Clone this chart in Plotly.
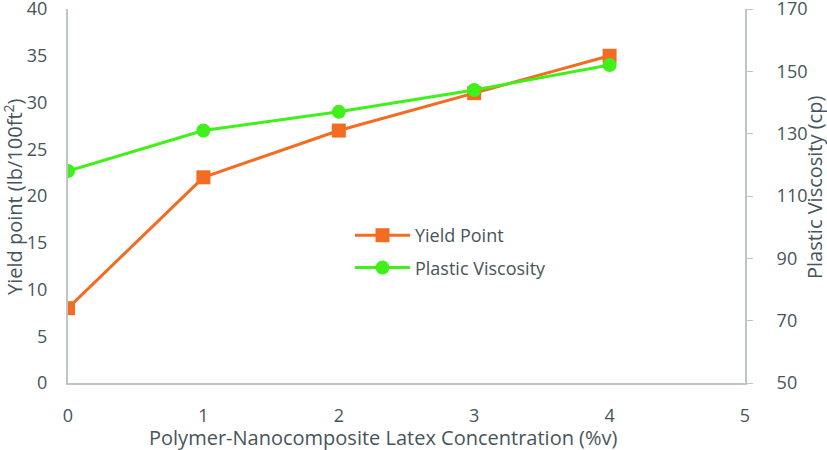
import plotly.graph_objects as go

concentration = [0, 1, 2, 3, 4]
yield_point = [8, 22, 27, 31, 35]
plastic_viscosity = [118, 131, 137, 144, 152]

x_ticks = [0, 1, 2, 3, 4, 5]
left_ticks = [0, 5, 10, 15, 20, 25, 30, 35, 40]
right_ticks = [50, 70, 90, 110, 130, 150, 170]

x_title = "Polymer-Nanocomposite Latex Concentration (%v)"
left_title = "Yield point (lb/100ft<sup>2</sup>)"
right_title = "Plastic Viscosity (cp)"

orange = "#F26C21"
green = "#3FF01A"
text_color = "#46555A"
axis_color = "#BFC4C4"
font_family = "Open Sans, Liberation Sans, sans-serif"

# plot area in pixels (for placing axis titles)
L, R, T, B = 68, 82, 9, 67
W, H = 827, 450
pw, ph = W - L - R, H - T - B


def px(xp):
    return (xp - L) / pw


def py(yp):
    return (H - B - yp) / ph


fig = go.Figure()
fig.add_trace(go.Scatter(
    x=concentration, y=yield_point, name="Yield Point", mode="lines+markers",
    line=dict(color=orange, width=3), legendgroup="a",
    marker=dict(symbol="square", size=14, color=orange),
    yaxis="y",
))
fig.add_trace(go.Scatter(
    x=concentration, y=plastic_viscosity, name="Plastic Viscosity", mode="lines+markers",
    line=dict(color=green, width=3), legendgroup="b",
    marker=dict(symbol="circle", size=14, color=green),
    yaxis="y2",
))

fig.update_layout(
    width=W, height=H,
    margin=dict(l=L, r=R, t=T, b=B, autoexpand=False),
    paper_bgcolor="white", plot_bgcolor="white",
    font=dict(family=font_family, color=text_color, size=18),
    showlegend=True,
    legend=dict(x=px(350), y=py(217), xanchor="left", yanchor="top",
                bgcolor="rgba(0,0,0,0)", font=dict(size=18, color=text_color),
                tracegroupgap=6, itemwidth=55),
    xaxis=dict(range=[0, 5], tickvals=x_ticks, showgrid=False, zeroline=False,
               showline=True, linecolor=axis_color, linewidth=2,
               ticks="", ticklabelstandoff=15, automargin=False,
               ticklabeloverflow="allow"),
    yaxis=dict(range=[0, 40], tickvals=left_ticks, showgrid=False, zeroline=False,
               showline=True, linecolor=axis_color, linewidth=2,
               ticks="", ticklabelstandoff=15, automargin=False,
               ticklabeloverflow="allow"),
    yaxis2=dict(range=[50, 170], tickvals=right_ticks, overlaying="y", side="right",
                showgrid=False, zeroline=False, showline=True, linecolor=axis_color,
                linewidth=2, ticks="outside", ticklen=6, tickcolor=axis_color,
                ticklabelstandoff=20, automargin=False, ticklabeloverflow="allow"),
    annotations=[
        dict(text=x_title, xref="paper", yref="paper", x=px(383), y=py(438),
             showarrow=False, font=dict(size=20, color=text_color),
             xanchor="center", yanchor="middle"),
        dict(text=left_title, xref="paper", yref="paper", x=px(13), y=py(197),
             showarrow=False, textangle=-90, font=dict(size=20, color=text_color),
             xanchor="center", yanchor="middle"),
        dict(text=right_title, xref="paper", yref="paper", x=px(814), y=py(188),
             showarrow=False, textangle=-90, font=dict(size=20, color=text_color),
             xanchor="center", yanchor="middle"),
    ],
)

fig.write_html("out.html", config={"displayModeBar": False},
               post_script="document.body.style.margin='0px';")
